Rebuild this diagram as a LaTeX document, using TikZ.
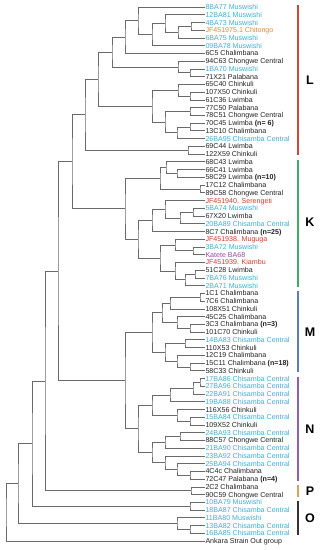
\documentclass[tikz,border=0pt]{standalone}
\usepackage{fontspec}
\setmainfont{Liberation Sans}
\usetikzlibrary{calc}
\definecolor{treegray}{HTML}{6A6A6A}
\definecolor{txt}{HTML}{222222}
\definecolor{muswishi}{HTML}{3DAED4}
\definecolor{chitongo}{HTML}{E0892E}
\definecolor{kenya}{HTML}{D03A30}
\definecolor{katete}{HTML}{8A4C9E}
\definecolor{barL}{HTML}{D0453F}
\definecolor{barK}{HTML}{3FAA6C}
\definecolor{barM}{HTML}{5C80AC}
\definecolor{barN}{HTML}{8C5FB0}
\definecolor{barP}{HTML}{D9A25E}
\definecolor{barO}{HTML}{333333}
% internal node: name, x position, upper child, lower child
\newcommand{\clade}[4]{%
  \path let \p1=(#3), \p2=(#4) in ({#2pt},{0.5*\y1+0.5*\y2}) coordinate (#1);
  \draw[branch] (#3) -| (#1) |- (#4);
}

\begin{document}
\begin{tikzpicture}[
  x=1pt, y=-1pt,
  leaf/.style={anchor=west, inner sep=0.8pt, font=\fontsize{7.1}{8}\selectfont, text height=5.1pt, text depth=0pt},
  branch/.style={draw=treegray, line width=0.7pt},
  clbar/.style={line width=1.6pt},
  cllabel/.style={font=\fontsize{12.5}{14}\selectfont\bfseries, text=black}
]
\useasboundingbox (0,0) rectangle (321,550);

\foreach \lab/\col [count=\i] in {
  {8BA77 Muswishi}/muswishi, {12BA81 Muswishi}/muswishi, {4BA73 Muswishi}/muswishi,
  {JF451975.1 Chitongo}/chitongo, {6BA75 Muswishi}/muswishi, {09BA78 Muswishi}/muswishi,
  {6C5 Chalimbana}/txt, {94C63 Chongwe Central}/txt, {1BA70 Muswishi}/muswishi,
  {71X21 Palabana}/txt, {65C40 Chinkuli}/txt, {107X50 Chinkuli}/txt,
  {61C36 Lwimba}/txt, {77C50 Palabana}/txt, {78C51 Chongwe Central}/txt,
  {70C45 Lwimba \textbf{(n= 6)}}/txt, {13C10 Chalimbana}/txt, {26BA95 Chisamba Central}/muswishi,
  {69C44 Lwimba}/txt, {122X59 Chinkuli}/txt, {68C43 Lwimba}/txt,
  {66C41 Lwimba}/txt, {58C29 Lwimba \textbf{(n=10)}}/txt, {17C12 Chalimbana}/txt,
  {89C58 Chongwe Central}/txt, {JF451940. Serengeti}/kenya, {5BA74 Muswishi}/muswishi,
  {67X20 Lwimba}/txt, {20BA89 Chisamba Central}/muswishi, {8C7 Chalimbana \textbf{(n=25)}}/txt,
  {JF451938. Muguga}/kenya, {3BA72 Muswishi}/muswishi, {Katete BA68}/katete,
  {JF451939. Kiambu}/kenya, {51C28 Lwimba}/txt, {7BA76 Muswishi}/muswishi,
  {2BA71 Muswishi}/muswishi, {1C1 Chalimbana}/txt, {7C6 Chalimbana}/txt,
  {108X51 Chinkuli}/txt, {45C25 Chalimbana}/txt, {3C3 Chalimbana \textbf{(n=3)}}/txt,
  {101C70 Chinkuli}/txt, {14BA83 Chisamba Central}/muswishi, {110X53 Chinkuli}/txt,
  {12C19 Chalimbana}/txt, {15C11 Chalimbana \textbf{(n=18)}}/txt, {58C33 Chinkuli}/txt,
  {17BA86 Chisamba Central}/muswishi, {27BA96 Chisamba Central}/muswishi, {22BA91 Chisamba Central}/muswishi,
  {19BA88 Chisamba Central}/muswishi, {116X56 Chinkuli}/txt, {15BA84 Chisamba Central}/muswishi,
  {109X52 Chinkuli}/txt, {24BA93 Chisamba Central}/muswishi, {88C57 Chongwe Central}/txt,
  {21BA90 Chisamba Central}/muswishi, {23BA92 Chisamba Central}/muswishi, {25BA94 Chisamba Central}/muswishi,
  {4C4c Chalimbana}/txt, {72C47 Palabana \textbf{(n=4)}}/txt, {2C2 Chalimbana}/txt,
  {90C59 Chongwe Central}/txt, {10BA79 Muswishi}/muswishi, {18BA87 Chisamba Central}/muswishi,
  {11BA80 Muswishi}/muswishi, {13BA82 Chisamba Central}/muswishi, {16BA85 Chisamba Central}/muswishi,
  {Ankara Strain Out group}/txt}
  \node[leaf, text=\col] (l\i) at (204.5,{7+(\i-1)*7.74}) {\lab};

% clade L
\clade{aA}{191}{l3.west}{l4.west}
\clade{aB}{178}{aA}{l5.west}
\clade{aC}{165}{l2.west}{aB}
\clade{aD}{152}{aC}{l6.west}
\clade{aE}{138}{l1.west}{aD}
\clade{aF}{125}{aE}{l7.west}
\clade{aG}{190}{l9.west}{l10.west}
\clade{aH}{178}{l8.west}{aG}
\clade{aI}{112}{aF}{aH}
\clade{aJ}{190}{l12.west}{l13.west}
\clade{aK}{178}{l11.west}{aJ}
\clade{aL}{190}{l14.west}{l15.west}
\clade{aM}{190}{l16.west}{l17.west}
\clade{aN}{177}{aM}{l18.west}
\clade{aO}{165}{aL}{aN}
\clade{aP}{152}{aK}{aO}
\clade{aQ}{98}{aI}{aP}
\clade{aR}{188}{l19.west}{l20.west}
\clade{cladeL}{85}{aQ}{aR}

% clade K
\clade{bA}{177}{l22.west}{l23.west}
\clade{bB}{166}{l21.west}{bA}
\clade{bC}{200}{l24.west}{l25.west}
\clade{bD}{160}{bB}{bC}
\clade{bE}{193}{l27.west}{l28.west}
\clade{bF}{180}{bE}{l29.west}
\clade{bG}{165}{l26.west}{bF}
\clade{bH}{152}{bG}{l30.west}
\clade{bI}{193}{l32.west}{l33.west}
\clade{bJ}{175}{l31.west}{bI}
\clade{bK}{195}{l35.west}{l36.west}
\clade{bL}{185}{bK}{l37.west}
\clade{bM}{175}{l34.west}{bL}
\clade{bN}{160}{bJ}{bM}
\clade{bO}{138}{bH}{bN}
\clade{cladeK}{125}{bD}{bO}
\clade{cladeLK}{72}{cladeL}{cladeK}

% clade M
\clade{cA}{200}{l38.west}{l39.west}
\clade{cB}{170}{cA}{l40.west}
\clade{cC}{190}{l42.west}{l43.west}
\clade{cD}{177}{l41.west}{cC}
\clade{cE}{162}{cB}{cD}
\clade{cF}{185}{l44.west}{l45.west}
\clade{cG}{190}{l47.west}{l48.west}
\clade{cH}{177}{l46.west}{cG}
\clade{cI}{165}{cF}{cH}
\clade{cladeM}{152}{cE}{cI}

% clade N
\clade{dA}{200}{l49.west}{l50.west}
\clade{dB}{193}{dA}{l51.west}
\clade{dC}{170}{dB}{l52.west}
\clade{dD}{190}{l54.west}{l55.west}
\clade{dE}{177}{l53.west}{dD}
\clade{dF}{152}{dC}{dE}
\clade{dG}{180}{l56.west}{l57.west}
\clade{dH}{165}{dG}{l58.west}
\clade{dI}{190}{l61.west}{l62.west}
\clade{dJ}{177}{l60.west}{dI}
\clade{dK}{165}{l59.west}{dJ}
\clade{dL}{152}{dH}{dK}
\clade{cladeN}{138}{dF}{dL}
\clade{cladeMN}{125}{cladeM}{cladeN}
\clade{cladeLKMN}{58}{cladeLK}{cladeMN}

% clades P, O and the root
\clade{cladeP}{191}{l63.west}{l64.west}
\clade{eA}{45}{cladeLKMN}{cladeP}
\clade{cladeOa}{190}{l65.west}{l66.west}
\clade{eB}{32}{eA}{cladeOa}
\clade{oA}{190}{l68.west}{l69.west}
\clade{cladeOb}{177}{l67.west}{oA}
\clade{eC}{18}{eB}{cladeOb}
\clade{root}{6}{eC}{l70.west}

% group bars
\draw[clbar, barL] (298,5) -- (298,155);
\draw[clbar, barK] (298,160) -- (298,287);
\draw[clbar, barM] (298,291) -- (298,372);
\draw[clbar, barN] (298,377) -- (298,481);
\draw[clbar, barP] (298,485) -- (298,497);
\draw[clbar, barO] (298,501) -- (298,535);
\node[cllabel] (labL) at (310,80) {L};
\node[cllabel] (labK) at (310,222) {K};
\node[cllabel] (labM) at (310,332) {M};
\node[cllabel] (labN) at (310,429) {N};
\node[cllabel] (labP) at (310,491) {P};
\node[cllabel] (labO) at (310,518) {O};
\end{tikzpicture}
\end{document}
